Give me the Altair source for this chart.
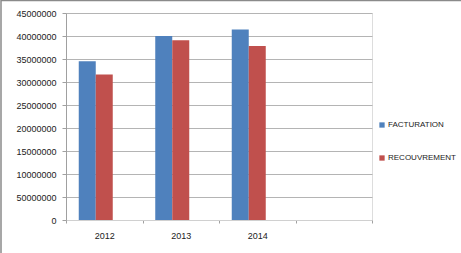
import altair as alt
import pandas as pd

years = ["2012", "2013", "2014"]
facturation = [34500000, 40000000, 41400000]
recouvrement = [31650000, 39050000, 37800000]
series = ["FACTURATION", "RECOUVREMENT"]
y_ticks = list(range(0, 45000001, 5000000))
x_domain = years + [" "]

rows = []
for i, yr in enumerate(years):
    rows.append({"year": yr, "series": series[0], "value": facturation[i]})
    rows.append({"year": yr, "series": series[1], "value": recouvrement[i]})
df = pd.DataFrame(rows)

FONT = "Liberation Sans"

bars = alt.Chart(df).mark_bar().encode(
    x=alt.X(
        "year:N",
        sort=x_domain,
        scale=alt.Scale(domain=x_domain, paddingInner=0, paddingOuter=0),
        axis=alt.Axis(
            title=None, labelAngle=0, tickBand="extent", grid=False,
            domainColor="#d0d0d0", tickColor="#a0a0a0", tickSize=3,
            labelPadding=8, labelFont=FONT, labelFontSize=9, labelColor="#222222",
        ),
    ),
    xOffset=alt.XOffset(
        "series:N",
        scale=alt.Scale(domain=series + ["_"], paddingInner=0, paddingOuter=0.75),
    ),
    y=alt.Y(
        "value:Q",
        scale=alt.Scale(domain=[0, 45000000], nice=False),
        axis=alt.Axis(
            title=None, values=y_ticks,
            labelExpr="datum.value == 5000000 ? '50000000' : format(datum.value, 'd')",
            grid=True,
            gridColor="#b4b4b4", domainColor="#a0a0a0", tickColor="#a0a0a0",
            tickSize=4, labelPadding=6, labelFont=FONT, labelFontSize=9,
            labelColor="#222222",
        ),
    ),
    color=alt.Color(
        "series:N",
        scale=alt.Scale(domain=series, range=["#4f81bd", "#c0504d"]),
        legend=alt.Legend(
            title=None, orient="none", legendX=312, legendY=108,
            symbolType="square", symbolSize=28, symbolStrokeWidth=0,
            labelFont=FONT, labelFontSize=8, labelColor="#222222",
            rowPadding=25, labelOffset=2,
        ),
    ),
)

frame = alt.Chart(pd.DataFrame({"a": [0]})).mark_rect(
    fillOpacity=0, stroke="#8a8a8a", strokeWidth=1.5
).encode(
    x=alt.value(-65), x2=alt.value(420), y=alt.value(-12.5), y2=alt.value(260)
)

chart = alt.layer(bars, frame).properties(
    width=306, height=207,
    autosize=alt.AutoSizeParams(type="none"),
    padding={"left": 66, "top": 13, "right": 89, "bottom": 33},
).configure_view(stroke=None).configure(background="white")

chart.save("out.html", embed_options={"renderer": "svg", "actions": False})
